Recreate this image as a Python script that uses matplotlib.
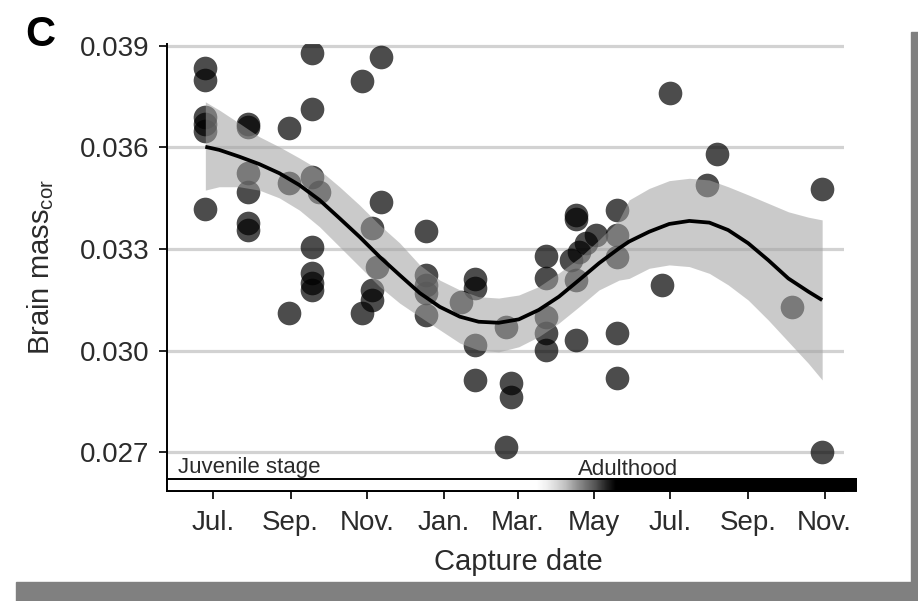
"""Panel C - corrected brain mass against capture date, with loess band."""
import matplotlib
matplotlib.use("Agg")
import matplotlib.dates as mdates
import matplotlib.pyplot as plt
import numpy as np
import pandas as pd
from matplotlib.patches import Rectangle

plt.rcParams["font.family"] = ["Liberation Sans", "DejaVu Sans"]
plt.rcParams["mathtext.default"] = "regular"

COLORS = {
    "text":   "#2b2b2b",
    "grid":   "#d2d2d2",
    "band":   "#a0a0a0",
    "frame":  "#808080",
    "point":  "#000000",
}

# one entry per fish: capture date and corrected brain mass
capture_dates = (
    ["2014-06-25"] * 6 + ["2014-07-29"] * 6 + ["2014-08-31"] * 3
    + ["2014-09-18"] * 7 + ["2014-09-24"] + ["2014-10-28"] * 2
    + ["2014-11-05"] * 3 + ["2014-11-09"] + ["2014-11-12"] * 2
    + ["2014-12-18"] * 5 + ["2015-01-15"] + ["2015-01-26"] * 4
    + ["2015-02-20"] * 2 + ["2015-02-24"] * 2 + ["2015-03-24"] * 5
    + ["2015-04-13"] + ["2015-04-17"] * 4 + ["2015-04-19"] + ["2015-04-25"]
    + ["2015-05-03"] + ["2015-05-19"] * 5 + ["2015-06-24"] + ["2015-07-01"]
    + ["2015-07-30"] + ["2015-08-07"] + ["2015-10-06"] + ["2015-10-30"] * 2
)
brain_mass = [
    0.03835, 0.03800, 0.03690, 0.03669, 0.03649, 0.03418,
    0.03669, 0.03660, 0.03525, 0.03468, 0.03377, 0.03356,
    0.03658, 0.03495, 0.03111,
    0.03879, 0.03714, 0.03513, 0.03306, 0.03229, 0.03200, 0.03179,
    0.03468,
    0.03797, 0.03111,
    0.03362, 0.03179, 0.03149,
    0.03247,
    0.03868, 0.03439,
    0.03353, 0.03223, 0.03195, 0.03170, 0.03105,
    0.03143,
    0.03211, 0.03185, 0.03016, 0.02913,
    0.03069, 0.02715,
    0.02904, 0.02863,
    0.03279, 0.03214, 0.03099, 0.03052, 0.03001,
    0.03267,
    0.03400, 0.03389, 0.03208, 0.03031,
    0.03291,
    0.03318,
    0.03341,
    0.03415, 0.03341, 0.03276, 0.03052, 0.02919,
    0.03194,
    0.03761,
    0.03489,
    0.03581,
    0.03129,
    0.03477, 0.02700,
]

# smoothed fit and its confidence band
fit_dates = [
    "2014-06-25", "2014-07-06", "2014-07-22", "2014-08-07", "2014-08-23",
    "2014-09-08", "2014-09-24", "2014-10-10", "2014-10-26", "2014-11-11",
    "2014-11-27", "2014-12-13", "2014-12-29", "2015-01-14", "2015-01-29",
    "2015-02-14", "2015-03-02", "2015-03-18", "2015-04-03", "2015-04-19",
    "2015-05-05", "2015-05-21", "2015-05-29", "2015-06-14", "2015-06-30",
    "2015-07-16", "2015-08-01", "2015-08-16", "2015-09-01", "2015-09-17",
    "2015-10-03", "2015-10-19", "2015-10-30",
]
fit_mass = [
    0.03602, 0.03593, 0.03573, 0.03551, 0.03524, 0.03489, 0.03445, 0.03391,
    0.03336, 0.03277, 0.03223, 0.03170, 0.03129, 0.03100, 0.03085, 0.03082,
    0.03092, 0.03120, 0.03159, 0.03208, 0.03258, 0.03302, 0.03322, 0.03351,
    0.03374, 0.03383, 0.03378, 0.03356, 0.03317, 0.03267, 0.03213, 0.03174,
    0.03149,
]
fit_upper = [
    0.03735, 0.03711, 0.03672, 0.03632, 0.03602, 0.03569, 0.03534, 0.03484,
    0.03430, 0.03371, 0.03318, 0.03253, 0.03208, 0.03179, 0.03159, 0.03155,
    0.03164, 0.03189, 0.03229, 0.03273, 0.03327, 0.03386, 0.03445, 0.03479,
    0.03502, 0.03509, 0.03504, 0.03484, 0.03460, 0.03435, 0.03410, 0.03394,
    0.03386,
]
fit_lower = [
    0.03474, 0.03484, 0.03484, 0.03474, 0.03451, 0.03415, 0.03366, 0.03307,
    0.03248, 0.03189, 0.03140, 0.03100, 0.03061, 0.03022, 0.03001, 0.02996,
    0.03011, 0.03041, 0.03081, 0.03129, 0.03179, 0.03208, 0.03213, 0.03243,
    0.03253, 0.03248, 0.03228, 0.03194, 0.03149, 0.03090, 0.03026, 0.02962,
    0.02913,
]

y_ticks = [0.027, 0.030, 0.033, 0.036, 0.039]
tick_dates = [
    "2014-07-01", "2014-09-01", "2014-11-01", "2015-01-01", "2015-03-01",
    "2015-05-01", "2015-07-01", "2015-09-01", "2015-11-01",
]
tick_labels = ["Jul.", "Sep.", "Nov.", "Jan.", "Mar.", "May", "Jul.", "Sep.", "Nov."]


def to_num(dates):
    return mdates.date2num(pd.to_datetime(dates))


fig = plt.figure(figsize=(9.18, 6.01), dpi=100, facecolor="white")
ax = fig.add_axes([0.1819, 0.1830, 0.7375, 0.7438])

x_lo = to_num(["2014-05-25 10:00"])[0]
x_hi = to_num(["2015-11-16 10:00"])[0]
y_lo, y_hi = 0.025847, 0.039059

# horizontal grid
for yv in y_ticks:
    ax.axhline(yv, color=COLORS["grid"], linewidth=2.3, zorder=0.5)

ax.scatter(to_num(capture_dates), brain_mass, s=290, color=COLORS["point"],
           alpha=0.70, linewidths=0, zorder=2)

fx = to_num(fit_dates)
ax.fill_between(fx, fit_lower, fit_upper, color=COLORS["band"], alpha=0.55,
                linewidth=0, zorder=3)
ax.plot(fx, fit_mass, color="black", linewidth=2.7, zorder=4,
        solid_joinstyle="round", solid_capstyle="butt")

# life stage bar along the bottom: white -> black gradient
bar_x1 = to_num(["2015-11-26"])[0]
bar_top = 0.026202
ramp_start, ramp_end = to_num(["2015-03-16", "2015-05-18"])
gx = np.linspace(x_lo, bar_x1, 600)
grad = np.clip((gx - ramp_start) / (ramp_end - ramp_start), 0, 1)[None, :]
img = ax.imshow(grad, extent=(x_lo, bar_x1, y_lo, bar_top), aspect="auto",
                cmap="Greys", vmin=0, vmax=1, origin="lower", zorder=5,
                interpolation="bilinear")
img.set_clip_on(False)
ax.add_patch(Rectangle((x_lo, y_lo), bar_x1 - x_lo, bar_top - y_lo, fill=False,
                       edgecolor="black", linewidth=1.4, zorder=6, clip_on=False))

ax.text(0.0162, 0.040, "Juvenile stage", transform=ax.transAxes, fontsize=16,
        color=COLORS["text"], va="baseline", ha="left", zorder=7)
ax.text(0.681, 0.036, "Adulthood", transform=ax.transAxes, fontsize=16,
        color=COLORS["text"], va="baseline", ha="center", zorder=7)

ax.set_xlim(x_lo, x_hi)
ax.set_ylim(y_lo, y_hi)
ax.set_xticks(to_num(tick_dates))
ax.set_xticklabels(tick_labels)
ax.set_yticks(y_ticks)
ax.set_yticklabels([f"{v:.3f}" for v in y_ticks])

ax.tick_params(axis="both", length=5.5, width=1.4, color="#222222",
               labelsize=20, labelcolor=COLORS["text"])
ax.tick_params(axis="x", pad=8)
ax.tick_params(axis="y", pad=7)

for side in ("top", "right"):
    ax.spines[side].set_visible(False)
for side in ("left", "bottom"):
    ax.spines[side].set_linewidth(1.4)
    ax.spines[side].set_color("black")

ax.set_xlabel("Capture date", fontsize=21, color=COLORS["text"])
ax.xaxis.set_label_coords(0.5185, -0.128)
ax.set_ylabel("Brain mass$_{cor}$", fontsize=21, color=COLORS["text"])
ax.yaxis.set_label_coords(-0.164, 0.5)

fig.text(25 / 918, 1 - 15 / 601, "C", fontsize=30, fontweight="bold",
         va="top", ha="left", color="black")

# grey frame the panel was cropped from
fig.patches.append(Rectangle((911 / 918, 0), 7 / 918, 569 / 601,
                             transform=fig.transFigure, color=COLORS["frame"],
                             zorder=0))
fig.patches.append(Rectangle((16 / 918, 0), 902 / 918, 19 / 601,
                             transform=fig.transFigure, color=COLORS["frame"],
                             zorder=0))

fig.savefig("out.png", dpi=100, facecolor="white")
plt.close(fig)
